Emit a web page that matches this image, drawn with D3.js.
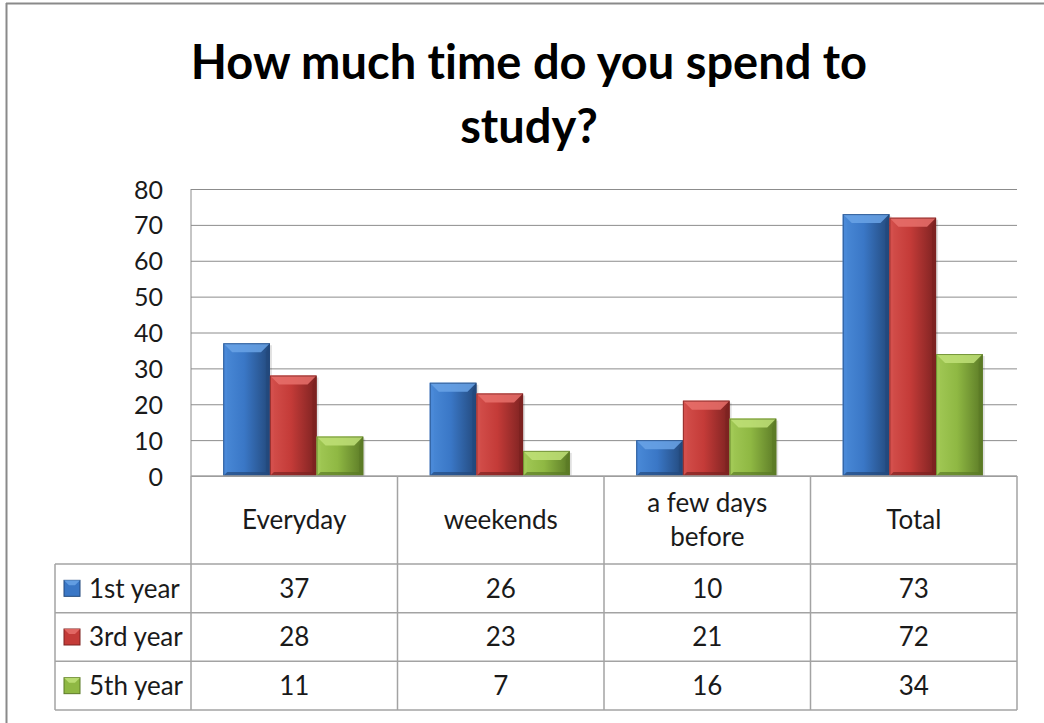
<!DOCTYPE html>
<meta charset="utf-8">
<style>
body { margin: 0; background: #fff; }
text { font-family: Lato, "Open Sans", sans-serif; fill: #1a1a1a; font-variant-ligatures: none; }
.title { font-weight: bold; font-size: 47px; fill: #000; }
.grid line { stroke: #8c8c8c; stroke-width: 1px; }
.grid text { font-size: 25px; }
.table line { stroke: #a3a3a3; stroke-width: 1.5px; }
.cell { font-size: 26px; }
</style>
<svg width="1044" height="723"></svg>
<script src="https://d3js.org/d3.v7.min.js"></script>
<script>
// values
var categories = ["Everyday", "weekends", "a few days before", "Total"];
var categoryLines = [["Everyday"], ["weekends"], ["a few days", "before"], ["Total"]];
var seriesNames = ["1st year", "3rd year", "5th year"];
var firstYear = [37, 26, 10, 73];
var thirdYear = [28, 23, 21, 72];
var fifthYear = [11, 7, 16, 34];
var yTicks = [0, 10, 20, 30, 40, 50, 60, 70, 80];
var titleLines = ["How much time do you spend to", "study?"];

var seriesValues = [firstYear, thirdYear, fifthYear];
// body, light bevel, dark edge
var seriesColors = [
  {body: "#3a77c6", light: "#6aa3e6", mid: "#4a8ad8", dark: "#23497c"},
  {body: "#c43b38", light: "#e8706b", mid: "#d4504c", dark: "#7c2221"},
  {body: "#8fb843", light: "#c0e078", mid: "#a2c956", dark: "#5b7a26"}
];

var svg = d3.select("svg");
var plotLeft = 191, plotRight = 1017, plotTop = 189, zeroY = 476, tableBottom = 710, legendLeft = 55;

// frame
svg.append("line").attr("x1", 6).attr("x2", 1044).attr("y1", 3.5).attr("y2", 3.5)
  .attr("stroke", "#8a8a8a").attr("stroke-width", 2);
svg.append("line").attr("x1", 6.5).attr("x2", 6.5).attr("y1", 3).attr("y2", 723)
  .attr("stroke", "#8a8a8a").attr("stroke-width", 2);

// title
svg.append("g").selectAll("text")
  .data(titleLines)
  .enter().append("text")
    .attr("class", "title")
    .attr("x", 529)
    .attr("y", function(d, i) { return 79 + i * 64; })
    .attr("text-anchor", "middle")
    .text(function(d) { return d; });

var x = d3.scaleBand().domain(categories).range([plotLeft, plotRight]);
var y = d3.scaleLinear().domain([0, 80]).range([zeroY, plotTop]);
var groupW = 140;
var xInner = d3.scaleBand().domain(seriesNames)
    .range([(x.bandwidth() - groupW) / 2 - 1, (x.bandwidth() + groupW) / 2 - 1]);
var row = d3.scaleBand().domain(seriesNames).range([564, tableBottom]);

// grid + y labels
var grid = svg.append("g")
    .attr("class", "grid")
    .attr("transform", "translate(" + plotLeft + ",0)")
    .call(d3.axisLeft(y).tickValues(yTicks).tickSize(-(plotRight - plotLeft)).tickPadding(28));
grid.select(".domain").remove();
grid.selectAll("text").attr("fill", "#1a1a1a").attr("dy", "0.36em");
svg.append("line").attr("x1", plotLeft).attr("x2", plotLeft).attr("y1", plotTop).attr("y2", zeroY)
  .attr("stroke", "#8c8c8c");

// bars
var bars = svg.append("g").attr("class", "bars");
var defs = svg.append("defs");
seriesNames.forEach(function(name, s) {
  var c = seriesColors[s];
  var gid = "grad" + s;
  var grad = defs.append("linearGradient").attr("id", gid)
      .attr("x1", 0).attr("x2", 1).attr("y1", 0).attr("y2", 0);
  grad.append("stop").attr("offset", "0%").attr("stop-color", c.mid);
  grad.append("stop").attr("offset", "45%").attr("stop-color", c.body);
  grad.append("stop").attr("offset", "100%").attr("stop-color", c.dark);

  var g = bars.selectAll("g.s" + s)
    .data(seriesValues[s])
    .enter().append("g")
      .attr("class", "s" + s);
  g.each(function(v, i) {
    var x0 = x(categories[i]) + xInner(name), x1 = x0 + xInner.bandwidth();
    var y0 = y(v), y1 = y(0);
    var b = Math.min(9, (y1 - y0) / 2), sb = 4;
    var el = d3.select(this);
    el.append("rect").attr("x", x0 + 2).attr("y", y0 + 2).attr("width", x1 - x0).attr("height", y1 - y0 - 2)
      .attr("fill", "#000").attr("opacity", 0.12);
    el.append("rect").attr("x", x0).attr("y", y0).attr("width", x1 - x0).attr("height", y1 - y0)
      .attr("fill", "url(#" + gid + ")");
    el.append("polygon")
      .attr("points", [[x0, y0], [x1, y0], [x1 - b, y0 + b], [x0 + b, y0 + b]].join(" "))
      .attr("fill", c.light).attr("opacity", 0.85);
    el.append("polygon")
      .attr("points", [[x0, y0], [x0 + sb, y0 + b], [x0 + sb, y1 - sb], [x0, y1]].join(" "))
      .attr("fill", c.mid).attr("opacity", 0.9);
    el.append("polygon")
      .attr("points", [[x1, y0], [x1 - sb, y0 + b], [x1 - sb, y1 - sb], [x1, y1]].join(" "))
      .attr("fill", c.dark).attr("opacity", 0.8);
    el.append("polygon")
      .attr("points", [[x0, y1], [x0 + sb, y1 - sb], [x1 - sb, y1 - sb], [x1, y1]].join(" "))
      .attr("fill", c.dark).attr("opacity", 0.7);
    el.append("rect").attr("x", x0 + 0.5).attr("y", y0 + 0.5).attr("width", x1 - x0 - 1).attr("height", y1 - y0 - 1)
      .attr("fill", "none").attr("stroke", c.dark).attr("stroke-width", 1).attr("opacity", 0.7);
  });
});

// data table
var table = svg.append("g").attr("class", "table");
var colEdges = categories.map(function(d) { return x(d); }).concat([plotRight]);
table.selectAll("line.v")
  .data(colEdges)
  .enter().append("line")
    .attr("x1", function(d) { return d; }).attr("x2", function(d) { return d; })
    .attr("y1", zeroY)
    .attr("y2", tableBottom);
table.append("line").attr("x1", legendLeft).attr("x2", legendLeft).attr("y1", row.range()[0]).attr("y2", tableBottom);
var rowEdges = seriesNames.map(function(d) { return row(d); }).concat([tableBottom]);
table.selectAll("line.h")
  .data(rowEdges)
  .enter().append("line")
    .attr("x1", legendLeft).attr("x2", plotRight)
    .attr("y1", function(d) { return d; }).attr("y2", function(d) { return d; });
table.append("line").attr("x1", plotLeft).attr("x2", plotRight).attr("y1", zeroY).attr("y2", zeroY)
  .attr("stroke", "#8c8c8c");

// header labels
categoryLines.forEach(function(lines, i) {
  var cy = (zeroY + row.range()[0]) / 2;
  var lh = 34;
  lines.forEach(function(t, k) {
    svg.append("text")
      .attr("class", "cell")
      .attr("x", x(categories[i]) + x.bandwidth() / 2)
      .attr("y", cy + (k - (lines.length - 1) / 2) * lh)
      .attr("dy", "0.36em")
      .attr("text-anchor", "middle")
      .text(t);
  });
});

// legend keys + numbers
seriesNames.forEach(function(name, s) {
  var cy = row(name) + row.bandwidth() / 2;
  var c = seriesColors[s];
  svg.append("rect").attr("x", 64).attr("y", cy - 8).attr("width", 16).attr("height", 16)
    .attr("fill", c.body).attr("stroke", c.dark).attr("stroke-width", 1);
  svg.append("polygon")
    .attr("points", [[64, cy - 8], [80, cy - 8], [75, cy - 3], [69, cy - 3]].join(" "))
    .attr("fill", c.light).attr("opacity", 0.85);
  svg.append("text").attr("class", "cell").attr("x", 89).attr("y", cy).attr("dy", "0.36em")
    .text(name);
  svg.selectAll("text.v" + s)
    .data(seriesValues[s])
    .enter().append("text")
      .attr("class", "cell v" + s)
      .attr("x", function(d, i) { return x(categories[i]) + x.bandwidth() / 2; })
      .attr("y", cy)
      .attr("dy", "0.36em")
      .attr("text-anchor", "middle")
      .text(function(d) { return d; });
});
</script>
